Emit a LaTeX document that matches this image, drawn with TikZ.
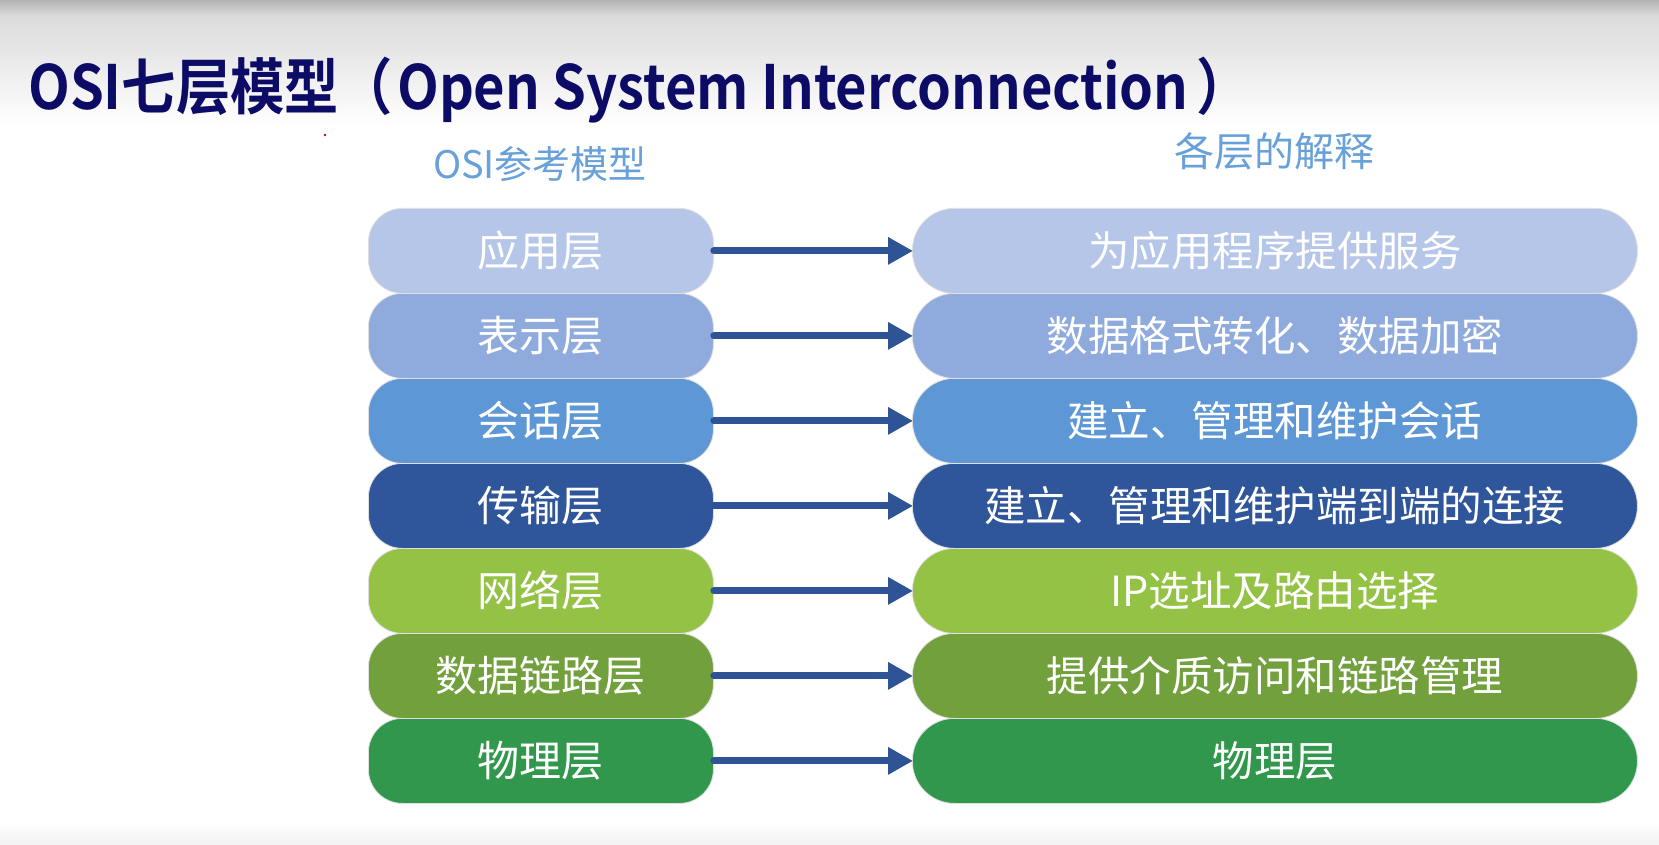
\documentclass[tikz,border=0pt]{standalone}
\usepackage{fontspec}
\setmainfont{Noto Sans CJK SC}
\newfontfamily\titlefont{Noto Sans CJK SC Bold}[FakeStretch=0.89]
\usetikzlibrary{arrows.meta}
\definecolor{cA}{RGB}{181,198,232}
\definecolor{cB}{RGB}{143,170,220}
\definecolor{cC}{RGB}{94,151,214}
\definecolor{cD}{RGB}{47,86,155}
\definecolor{cE}{RGB}{147,194,69}
\definecolor{cF}{RGB}{113,160,61}
\definecolor{cG}{RGB}{49,151,76}
\definecolor{arrowblue}{RGB}{47,84,150}
\definecolor{headblue}{RGB}{104,160,218}
\definecolor{titlenavy}{RGB}{12,12,102}
\tikzset{
  layerbox/.style={draw=white!75!gray, line width=0.8pt, rounded corners=34pt,
    minimum width=345pt, minimum height=85pt, inner sep=0pt,
    text=white, font=\fontsize{42}{42}\selectfont, anchor=north west},
  descbox/.style={draw=white!75!gray, line width=0.8pt, rounded corners=42pt,
    minimum width=725pt, minimum height=85pt, inner sep=0pt,
    text=white, font=\fontsize{41.5}{42}\selectfont, anchor=north west},
  link/.style={draw=arrowblue, line width=7pt, line cap=round,
    -{Triangle[length=25pt,width=26pt]}, shorten >=-1pt},
  header/.style={text=headblue, inner sep=0pt}
}
\begin{document}
\begin{tikzpicture}[x=1pt,y=-1pt]
\useasboundingbox (0,0) rectangle (1659,845);
\fill[white] (0,0) rectangle (1659,845);
\shade[top color=white!70!black, bottom color=white!86!black] (0,0) rectangle (1659,16);
\shade[top color=white!86!black, bottom color=white] (0,16) rectangle (1659,125);
\shade[top color=white, bottom color=white!95!black] (0,822) rectangle (1659,845);
\fill[red!80!black] (325,135) circle (1.4);

\node[anchor=west, inner sep=0pt, text=titlenavy, font=\titlefont\fontsize{61}{61}\selectfont] (title) at (28,90) {OSI七层模型（\hspace{4pt}Open System Interconnection\hspace{8pt}）};

\node[header, font=\fontsize{38}{38}\selectfont] (h1) at (540,164) {OSI参考模型};
\node[header, font=\fontsize{40}{40}\selectfont] (h2) at (1274,151) {各层的解释};

\node[layerbox, fill=cA] (l1) at (368,208) {应用层};
\node[layerbox, fill=cB] (l2) at (368,293) {表示层};
\node[layerbox, fill=cC] (l3) at (368,378) {会话层};
\node[layerbox, fill=cD] (l4) at (368,463) {传输层};
\node[layerbox, fill=cE] (l5) at (368,548) {网络层};
\node[layerbox, fill=cF] (l6) at (368,633) {数据链路层};
\node[layerbox, fill=cG] (l7) at (368,718) {物理层};

\node[descbox, fill=cA] (d1) at (912,208) {为应用程序提供服务};
\node[descbox, fill=cB] (d2) at (912,293) {数据格式转化、数据加密};
\node[descbox, fill=cC] (d3) at (912,378) {建立、管理和维护会话};
\node[descbox, fill=cD] (d4) at (912,463) {建立、管理和维护端到端的连接};
\node[descbox, fill=cE] (d5) at (912,548) {IP选址及路由选择};
\node[descbox, fill=cF] (d6) at (912,633) {提供介质访问和链路管理};
\node[descbox, fill=cG] (d7) at (912,718) {物理层};

\foreach \i in {1,...,7} {
  \draw[link] (l\i.east) -- (d\i.west);
}
\end{tikzpicture}
\end{document}
